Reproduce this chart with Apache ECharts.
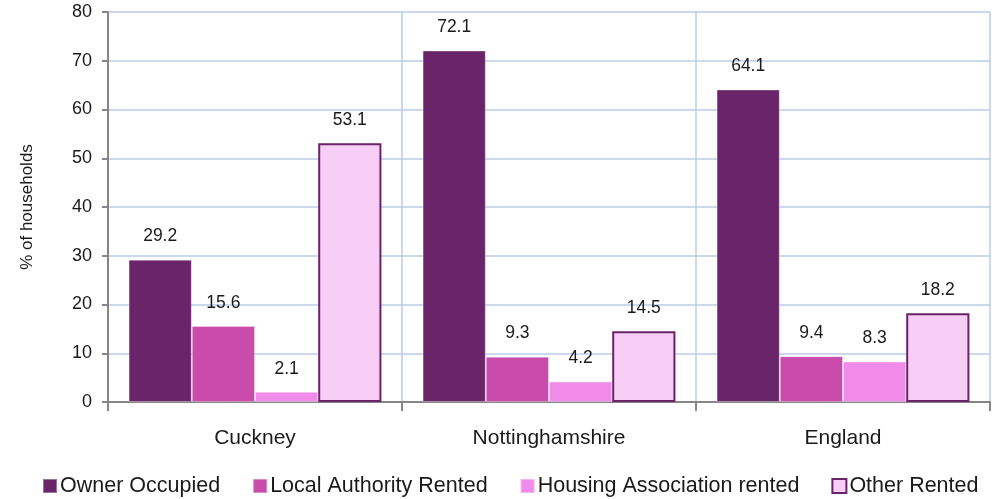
<!DOCTYPE html>
<html>
<head>
<meta charset="utf-8">
<script src="https://cdn.jsdelivr.net/npm/echarts@6/dist/echarts.min.js"></script>
<style>
  html, body { margin: 0; padding: 0; background: #ffffff; }
  #chart { width: 1006px; height: 499px; }
</style>
</head>
<body>
<div id="chart"></div>
<script>
// Household tenure by area (% of households)
const areas = ['Cuckney', 'Nottinghamshire', 'England'];
const ownerOccupied = [29.2, 72.1, 64.1];
const localAuthorityRented = [15.6, 9.3, 9.4];
const housingAssociationRented = [2.1, 4.2, 8.3];
const otherRented = [53.1, 14.5, 18.2];
const seriesNames = ['Owner Occupied', 'Local Authority Rented', 'Housing Association rented', 'Other Rented'];
const yTicks = { min: 0, max: 80, interval: 10 };

const font = 'Liberation Sans, Arial, sans-serif';
const labelStyle = {
  show: true,
  position: 'top',
  distance: 14,
  color: '#1a1a1a',
  fontSize: 17.5,
  fontFamily: font,
  formatter: p => p.value.toFixed(1)
};

function bar(name, data, color, border) {
  return {
    name,
    type: 'bar',
    data,
    barGap: '0%',
    barCategoryGap: '14%',
    itemStyle: border
      ? { color, borderColor: border, borderWidth: 2 }
      : { color, borderColor: 'rgba(255,255,255,0.35)', borderWidth: 1 },
    label: labelStyle
  };
}

const chart = echarts.init(document.getElementById('chart'), null, { renderer: 'canvas' });
chart.setOption({
  animation: false,
  grid: { left: 108, right: 16, top: 12, bottom: 97, containLabel: false },
  legend: {
    top: 470,
    left: 37,
    itemWidth: 14,
    itemHeight: 14,
    itemGap: 32,
    icon: 'rect',
    textStyle: { fontSize: 21.5, fontFamily: font, color: '#1a1a1a', padding: [0, 0, 0, -2] },
    data: seriesNames
  },
  xAxis: {
    type: 'category',
    data: areas,
    axisLine: { lineStyle: { color: '#868686', width: 2 } },
    axisTick: { show: true, length: 9, lineStyle: { color: '#868686', width: 2 } },
    axisLabel: { fontSize: 21, fontFamily: font, color: '#1a1a1a', margin: 26 },
    splitLine: { show: true, lineStyle: { color: '#b9cde5', width: 1.5 } }
  },
  yAxis: {
    type: 'value',
    min: yTicks.min,
    max: yTicks.max,
    interval: yTicks.interval,
    name: '% of households',
    nameLocation: 'middle',
    nameGap: 72,
    nameRotate: 90,
    nameTextStyle: { fontSize: 17, fontFamily: font, color: '#1a1a1a' },
    axisLine: { show: true, lineStyle: { color: '#868686', width: 2 } },
    axisTick: { show: true, length: 6, lineStyle: { color: '#868686', width: 2 } },
    axisLabel: { fontSize: 18, fontFamily: font, color: '#1a1a1a', margin: 16 },
    splitLine: { show: true, lineStyle: { color: '#b9cde5', width: 1.5 } }
  },
  series: [
    bar(seriesNames[0], ownerOccupied, '#6a2469'),
    bar(seriesNames[1], localAuthorityRented, '#c94bac'),
    bar(seriesNames[2], housingAssociationRented, '#f08bea'),
    bar(seriesNames[3], otherRented, '#f8cdf6', '#6a2469')
  ]
});
</script>
</body>
</html>
